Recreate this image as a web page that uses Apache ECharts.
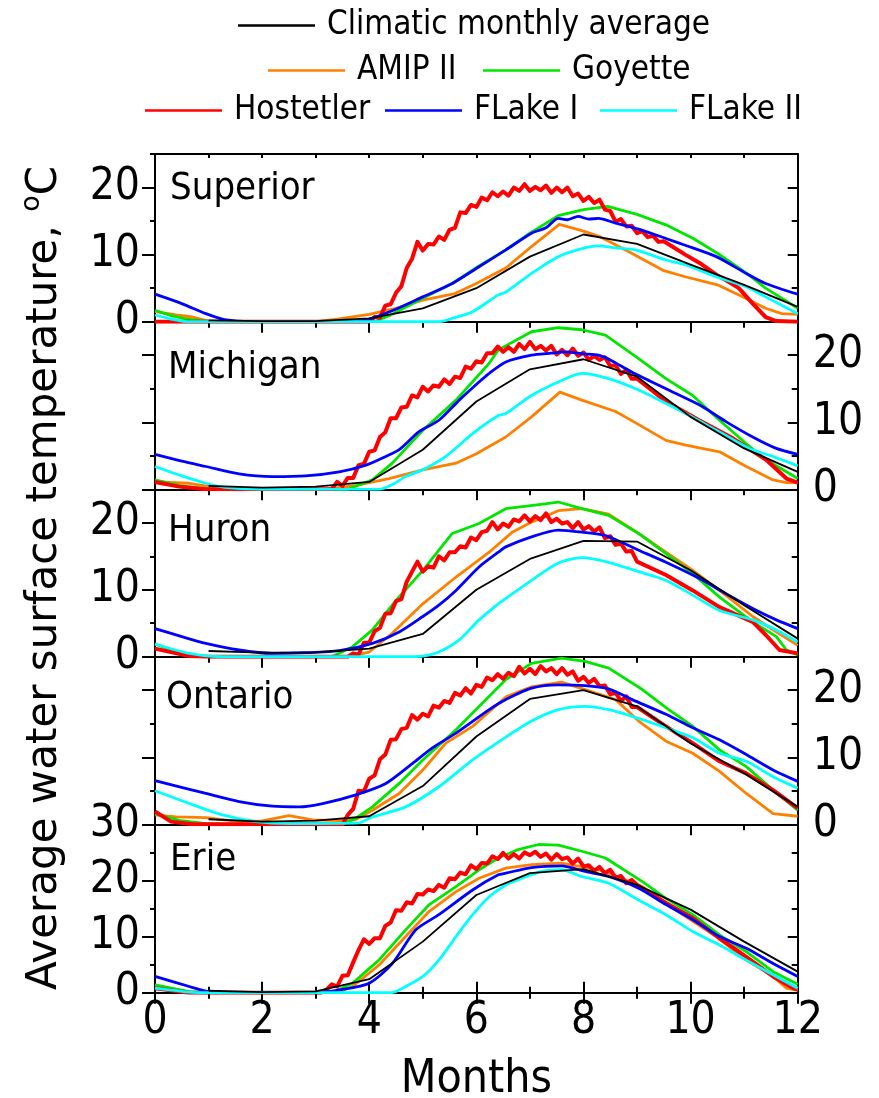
<!DOCTYPE html>
<html>
<head>
<meta charset="utf-8">
<script src="https://cdn.jsdelivr.net/npm/echarts@6/dist/echarts.min.js"></script>
<style>
  html, body { margin: 0; padding: 0; background: #ffffff; }
  #chart { width: 879px; height: 1098px; }
</style>
</head>
<body>
<div id="chart"></div>
<script>
// Panels (one per lake) and the model runs drawn in each
const lakes = ['Superior', 'Michigan', 'Huron', 'Ontario', 'Erie'];
const modelNames = ['Climatic monthly average', 'AMIP II', 'Goyette', 'Hostetler', 'FLake I', 'FLake II'];
const yMaxByLake = [25, 25, 25, 25, 30];
const xMajorTicks = [0, 2, 4, 6, 8, 10, 12];
const xMinorTicks = [1, 3, 5, 7, 9, 11];
const monthTicks = [0, 1, 2, 3, 4, 5, 6, 7, 8, 9, 10, 11, 12];
const yMajorTicks25 = [0, 10, 20];
const yMinorTicks25 = [5, 15, 25];
const yMajorTicks30 = [0, 10, 20, 30];
const yMinorTicks30 = [5, 15, 25];

// ---- Lake Superior: [month, °C]
const supClim = [[1,0.2],[2,0.1],[3,0.1],[4,0.5],[5,2.0],[6,5.0],[7,9.7],[8,13.0],[9,11.6],[10,8.5],[11,5.5],[12,2.2]];
const supAmip = [[0,1.5],[0.4,1.0],[0.7,0.7],[1.0,0.1],[1.5,0],[3.0,0],[3.4,0.4],[4.0,1.1],[4.5,2.0],[5.0,3.2],[5.6,4.2],[6.0,5.7],[6.55,8.0],[7.0,11.0],[7.55,14.5],[8.0,13.5],[8.3,12.7],[8.9,10.2],[9.5,7.6],[9.9,6.7],[10.5,5.5],[11.0,3.6],[11.4,2.0],[11.7,1.2],[12,1.1]];
const supGoy = [[0,1.7],[0.3,0.9],[0.6,0.4],[1.0,0.05],[1.5,0],[4.1,0],[4.4,1.0],[5.0,3.5],[5.55,5.7],[6.05,8.3],[6.55,10.7],[7.0,13.2],[7.53,15.8],[8.0,16.7],[8.45,17.2],[9.0,16.0],[9.55,14.4],[10.05,12.4],[10.5,10.2],[11.05,7.2],[11.4,5.0],[12,2.0]];
const supHost = [[0,0],[4.0,0],[4.1,0.7],[4.2,0.6],[4.3,2.4],[4.4,2.6],[4.5,4.3],[4.6,5.3],[4.7,8.0],[4.8,9.4],[4.9,11.9],[5.0,10.6],[5.1,11.6],[5.2,11.5],[5.3,12.7],[5.4,12.2],[5.5,13.7],[5.6,14.0],[5.7,16.3],[5.8,16.2],[5.9,17.4],[6.0,17.1],[6.1,18.5],[6.2,18.1],[6.3,19.3],[6.4,18.7],[6.5,19.4],[6.6,18.8],[6.7,20.0],[6.8,19.5],[6.9,20.5],[7.0,19.5],[7.1,20.1],[7.2,19.6],[7.3,20.3],[7.4,19.2],[7.5,20.0],[7.6,19.3],[7.7,20.0],[7.8,18.7],[7.9,19.1],[8.0,18.0],[8.1,18.6],[8.2,17.7],[8.3,18.2],[8.4,16.7],[8.5,16.5],[8.6,14.9],[8.7,15.3],[8.8,14.2],[8.9,14.3],[9.0,13.2],[9.1,13.5],[9.2,12.6],[9.3,12.8],[9.4,11.9],[9.5,12.0],[9.9,10.0],[10.2,8.6],[10.48,7.0],[10.7,6.0],[10.9,5.0],[11.16,2.7],[11.4,0.7],[11.6,0.1],[12,0]];
const supFl1 = [[0,4.1],[0.5,2.7],[0.95,1.2],[1.3,0.3],[1.8,0],[3.5,0],[4.0,0.4],[4.45,1.7],[5.0,3.7],[5.55,5.7],[6.05,8.2],[6.55,10.7],[7.03,13.2],[7.3,14.0],[7.53,15.4],[7.7,15.2],[7.9,15.7],[8.1,15.3],[8.28,15.4],[8.6,14.7],[9.03,13.8],[9.54,12.4],[9.9,11.4],[10.48,9.7],[11.04,7.2],[11.4,5.7],[12,4.1]];
const supFl2 = [[0,1.0],[0.3,0.4],[0.6,0],[5.3,0],[5.55,0.5],[5.93,1.5],[6.41,4.0],[6.55,4.4],[7.03,7.2],[7.53,9.7],[7.97,10.9],[8.28,11.3],[8.6,11.0],[8.97,10.7],[9.54,9.2],[9.9,8.5],[10.48,6.7],[11.04,5.2],[11.4,3.7],[12,1.2]];

// ---- Lake Michigan
const micClim = [[1,0.5],[2,0.25],[3,0.4],[4,1.1],[5,5.9],[6,13.1],[7,17.9],[8,19.4],[9,16.8],[10,10.8],[11,6.1],[12,2.6]];
const micAmip = [[0,1.1],[0.64,0.9],[1.26,0.1],[2,0],[3.2,0],[3.75,0.6],[4.37,1.6],[5.0,2.9],[5.62,3.9],[6.0,5.3],[6.55,7.8],[7.03,10.8],[7.56,14.5],[7.97,13.3],[8.6,11.6],[9.0,9.8],[9.54,7.3],[9.91,6.6],[10.54,5.6],[11.04,3.4],[11.54,1.4],[11.79,1.0],[12,1.0]];
const micGoy = [[0,1.4],[0.45,0.6],[0.95,0.05],[1.5,0],[3.6,0],[4.06,1.4],[4.43,3.9],[5.0,8.8],[5.62,13.3],[6.24,18.8],[6.41,20.8],[7.03,23.5],[7.53,24.1],[7.97,23.8],[8.41,23.0],[9.03,19.5],[9.54,16.5],[10.04,14.0],[10.54,10.3],[11.04,6.8],[11.41,4.4],[12,1.6]];
const micHost = [[0,1.1],[0.45,0.4],[0.95,0],[3.3,0],[3.4,1.1],[3.5,0.5],[3.6,1.7],[3.7,1.7],[3.8,3.6],[3.9,3.8],[4.0,5.6],[4.1,5.8],[4.2,7.8],[4.3,8.5],[4.4,10.6],[4.5,10.6],[4.6,12.2],[4.7,12.3],[4.8,14.0],[4.9,13.7],[5.0,15.3],[5.1,14.6],[5.2,15.5],[5.3,15.3],[5.4,16.4],[5.5,15.7],[5.6,16.8],[5.7,16.6],[5.8,18.3],[5.9,18.0],[6.0,19.1],[6.1,18.9],[6.2,20.3],[6.3,20.3],[6.4,21.3],[6.5,20.5],[6.6,21.2],[6.7,20.5],[6.8,21.7],[6.9,20.9],[7.0,22.0],[7.1,20.9],[7.2,21.4],[7.3,20.7],[7.4,21.4],[7.5,20.1],[7.6,20.8],[7.7,20.0],[7.8,21.0],[7.9,19.9],[8.0,20.4],[8.1,19.3],[8.2,19.9],[8.3,19.3],[8.4,19.7],[8.5,18.4],[8.6,18.5],[8.7,17.2],[8.8,17.8],[8.9,16.5],[9.0,16.5],[9.54,13.1],[10.16,10.3],[10.79,7.6],[11.41,4.4],[11.79,1.6],[12,1.0]];
const micFl1 = [[0,5.2],[0.5,4.2],[0.95,3.4],[1.57,2.3],[2.19,1.9],[2.81,2.0],[3.44,2.6],[3.94,3.6],[4.31,4.9],[4.56,5.9],[4.93,8.6],[5.3,10.3],[5.68,13.3],[6.05,16.0],[6.24,17.3],[6.55,19.0],[7.03,20.0],[7.4,20.3],[7.66,20.5],[8.0,20.2],[8.28,20.0],[8.5,19.3],[8.9,17.5],[9.54,15.0],[10.16,12.6],[10.66,10.1],[11.16,7.8],[11.6,6.1],[12,5.2]];
const micFl2 = [[0,3.4],[0.5,2.0],[0.95,0.9],[1.3,0.3],[2,0],[4.2,0],[4.43,0.7],[4.68,1.9],[5.0,2.9],[5.43,4.9],[5.93,8.3],[6.41,11.0],[6.55,11.3],[7.03,14.0],[7.53,16.0],[7.97,17.3],[8.47,16.5],[9.03,14.8],[9.54,12.8],[9.91,11.3],[10.48,8.8],[11.1,6.1],[11.54,4.9],[12,3.5]];

// ---- Lake Huron
const hurClim = [[1,0.85],[2,0.6],[3,0.65],[4,1.2],[5,3.4],[6,10.0],[7,14.6],[8,17.3],[9,17.2],[10,12.9],[11,7.7],[12,2.7]];
const hurAmip = [[0,1.2],[0.4,0.5],[0.8,0.1],[1.2,0],[3.6,0],[4.0,0.7],[4.43,3.5],[5.0,7.9],[5.62,11.9],[6.24,15.6],[6.41,16.8],[6.67,18.6],[7.03,20.1],[7.53,21.8],[7.97,22.1],[8.47,21.3],[9.03,18.4],[9.54,15.6],[10.04,12.9],[10.54,9.9],[11.16,6.0],[11.6,3.7],[12,1.7]];
const hurGoy = [[0,1.9],[0.3,1.0],[0.65,0.25],[1.0,0],[3.3,0],[3.69,1.5],[4.06,4.0],[4.5,8.4],[5.0,12.9],[5.55,18.4],[6.05,19.9],[6.55,22.1],[7.17,22.7],[7.53,23.1],[7.97,22.1],[8.47,21.1],[9.03,18.4],[9.54,15.4],[10.04,12.4],[10.54,8.9],[11.16,5.2],[11.6,3.0],[11.79,1.0],[12,0.25]];
const hurHost = [[0,1.2],[0.64,0.1],[1.0,0],[3.6,0],[3.7,0.5],[3.8,0.3],[3.9,2.1],[4.0,2.1],[4.1,3.8],[4.2,4.3],[4.3,6.4],[4.4,6.5],[4.5,8.3],[4.6,8.6],[4.7,11.2],[4.8,12.7],[4.9,14.2],[5.0,12.7],[5.1,13.5],[5.2,13.3],[5.3,15.0],[5.4,14.4],[5.5,15.6],[5.6,15.6],[5.7,16.5],[5.8,16.3],[5.9,17.8],[6.0,17.4],[6.1,18.6],[6.2,18.8],[6.3,20.1],[6.4,19.0],[6.5,19.9],[6.6,19.4],[6.7,20.5],[6.8,20.2],[6.9,21.1],[7.0,20.2],[7.1,21.0],[7.2,20.4],[7.3,21.4],[7.4,20.1],[7.5,20.6],[7.6,19.9],[7.7,20.1],[7.8,19.2],[7.9,20.1],[8.0,19.0],[8.1,19.5],[8.2,18.7],[8.3,19.3],[8.4,17.7],[8.5,18.0],[8.6,16.7],[8.7,16.9],[8.8,15.7],[8.9,15.8],[9.0,14.2],[9.54,12.2],[10.04,9.9],[10.54,7.4],[11.16,5.2],[11.41,3.2],[11.66,1.0],[12,0.5]];
const hurFl1 = [[0,4.2],[0.5,3.0],[0.95,2.0],[1.57,1.0],[2.19,0.5],[2.81,0.6],[3.44,0.9],[4.06,2.0],[4.56,3.7],[5.0,6.0],[5.3,7.7],[5.62,9.9],[6.05,13.4],[6.41,15.6],[6.55,16.4],[7.03,17.9],[7.53,18.9],[7.97,18.6],[8.41,18.1],[9.03,15.9],[9.54,14.1],[10.16,11.7],[10.66,9.4],[11.16,7.2],[11.6,5.5],[12,4.2]];
const hurFl2 = [[0,1.9],[0.64,0.5],[1.26,0],[4.6,0],[5.0,0.1],[5.3,0.7],[5.68,2.5],[6.05,5.5],[6.41,7.9],[6.55,8.7],[7.03,11.4],[7.53,14.0],[7.97,14.8],[8.47,14.1],[9.03,12.7],[9.54,11.4],[10.04,9.2],[10.54,6.9],[11.16,5.5],[11.6,4.0],[12,2.2]];

// ---- Lake Ontario
const ontClim = [[1,0.75],[2,0.4],[3,0.55],[4,1.2],[5,5.7],[6,13.1],[7,18.7],[8,20.0],[9,17.6],[10,12.1],[11,7.6],[12,2.6]];
const ontAmip = [[0,1.4],[0.4,1.1],[0.95,1.0],[1.57,0.4],[2.0,0.5],[2.5,1.3],[2.94,0.65],[3.44,0.55],[3.75,0.7],[4.06,2.1],[4.56,4.6],[5.0,8.1],[5.43,12.1],[5.93,14.6],[6.55,19.0],[7.03,20.5],[7.59,21.2],[8.03,20.1],[8.6,18.6],[9.03,15.4],[9.54,12.4],[10.04,10.6],[10.54,7.9],[11.04,4.6],[11.54,1.6],[12,1.2]];
const ontGoy = [[0,1.6],[0.45,0.6],[0.95,0.1],[1.5,0],[3.5,0],[3.75,0.9],[4.06,2.6],[4.56,6.1],[5.0,9.6],[5.62,14.1],[6.24,19.1],[6.55,21.6],[7.03,24.0],[7.59,24.8],[8.03,24.3],[8.47,23.3],[9.1,20.1],[9.54,17.4],[10.04,14.6],[10.54,11.1],[11.04,8.6],[11.54,5.1],[12,2.1]];
const ontHost = [[0,1.9],[0.3,0.4],[0.7,0],[3.5,0],[3.6,1.4],[3.7,2.3],[3.8,5.0],[3.9,4.9],[4.0,6.8],[4.1,7.3],[4.2,9.7],[4.3,10.4],[4.4,12.6],[4.5,12.7],[4.6,14.2],[4.7,14.4],[4.8,16.3],[4.9,15.6],[5.0,16.5],[5.1,16.1],[5.2,17.7],[5.3,17.4],[5.4,18.4],[5.5,18.1],[5.6,19.6],[5.7,19.2],[5.8,20.3],[5.9,19.5],[6.0,20.8],[6.1,20.5],[6.2,21.9],[6.3,21.5],[6.4,22.4],[6.5,21.7],[6.6,22.6],[6.7,22.1],[6.8,23.5],[6.9,22.5],[7.0,23.2],[7.1,22.4],[7.2,23.6],[7.3,22.8],[7.4,23.3],[7.5,22.4],[7.6,23.3],[7.7,22.3],[7.8,22.8],[7.9,21.4],[8.0,22.0],[8.1,21.1],[8.2,21.7],[8.3,20.6],[8.4,20.7],[8.5,19.4],[8.6,19.6],[8.7,18.4],[8.8,19.1],[8.9,17.5],[9.0,17.5],[9.54,14.6],[10.04,12.1],[10.54,9.4],[11.04,7.6],[11.54,5.1],[12,2.4]];
const ontFl1 = [[0,6.5],[0.95,4.6],[1.57,3.4],[2.19,2.7],[2.69,2.6],[3.13,3.1],[3.75,4.4],[4.31,6.1],[4.81,9.1],[5.18,11.4],[5.62,13.6],[6.24,17.1],[6.55,18.6],[7.03,20.3],[7.53,20.8],[8.03,20.7],[8.47,20.2],[8.91,18.6],[9.54,16.4],[10.04,14.4],[10.54,12.6],[11.04,10.4],[11.54,8.1],[12,6.4]];
const ontFl2 = [[0,5.0],[0.64,3.1],[1.26,1.4],[1.88,0.4],[2.5,0.1],[3.8,0.2],[4.06,1.1],[4.68,2.6],[5.3,5.6],[5.93,9.6],[6.55,13.0],[7.03,15.4],[7.53,17.1],[8.03,17.6],[8.47,17.1],[8.91,16.1],[9.54,14.4],[10.04,12.9],[10.54,10.6],[11.04,9.4],[11.54,7.1],[12,5.4]];

// ---- Lake Erie
const erieClim = [[1,0.35],[2,0.1],[3,0.25],[4,2.4],[5,9.1],[6,17.4],[7,21.3],[8,22.0],[9,19.2],[10,14.8],[11,9.1],[12,3.75]];
const erieAmip = [[0,0.8],[0.64,0.1],[1.0,0],[3.4,0],[3.69,1.1],[4.18,4.9],[4.68,10.0],[5.12,14.5],[5.62,18.0],[6.05,20.4],[6.55,22.2],[7.03,22.8],[7.59,23.1],[8.28,21.9],[9.1,18.9],[9.85,13.9],[10.48,10.0],[11.04,5.8],[11.54,2.9],[11.79,0.8],[12,0.4]];
const erieGoy = [[0,1.4],[0.64,0.2],[1.0,0],[3.3,0],[3.69,1.7],[4.18,5.8],[4.68,11.2],[5.12,15.7],[5.62,18.9],[6.05,21.9],[6.41,24.0],[6.78,25.5],[7.16,26.4],[7.53,26.3],[7.97,25.2],[8.41,24.0],[9.1,19.8],[9.54,16.8],[10.04,13.9],[10.54,10.3],[11.04,7.3],[11.54,3.75],[12,1.5]];
const erieHost = [[0,0.8],[0.64,0],[3.1,0],[3.2,0.5],[3.3,1.5],[3.4,1.1],[3.5,3.0],[3.6,3.1],[3.7,5.4],[3.8,7.6],[3.9,9.5],[4.0,8.7],[4.1,9.7],[4.2,9.7],[4.3,11.9],[4.4,12.5],[4.5,14.7],[4.6,14.6],[4.7,16.1],[4.8,15.9],[4.9,17.6],[5.0,17.5],[5.1,18.4],[5.2,18.1],[5.3,19.2],[5.4,18.7],[5.5,20.4],[5.6,20.2],[5.7,21.4],[5.8,21.1],[5.9,22.7],[6.0,22.0],[6.1,23.1],[6.2,23.0],[6.3,24.3],[6.4,23.8],[6.5,24.9],[6.6,23.9],[6.7,24.7],[6.8,23.9],[6.9,25.0],[7.0,24.5],[7.1,25.1],[7.2,24.2],[7.3,24.8],[7.4,23.7],[7.5,24.7],[7.6,23.8],[7.7,24.1],[7.8,23.0],[7.9,23.9],[8.0,22.5],[8.1,22.7],[8.2,21.7],[8.3,22.4],[8.4,21.3],[8.5,21.9],[8.6,20.5],[8.7,20.8],[8.8,19.5],[8.9,20.1],[9.0,19.2],[9.54,16.0],[10.04,13.3],[10.54,9.7],[11.04,6.4],[11.54,2.9],[11.92,0.8],[12,0.6]];
const erieFl1 = [[0,2.9],[0.64,1.1],[1.0,0.2],[1.5,0],[3.0,0],[3.44,0.5],[4.0,1.7],[4.43,5.2],[4.87,11.2],[5.3,13.9],[5.93,18.3],[6.41,21.0],[6.55,21.3],[7.03,22.3],[7.59,22.6],[8.03,21.6],[8.47,20.7],[9.03,18.6],[9.54,15.7],[10.04,13.0],[10.54,10.0],[11.04,7.9],[11.54,5.2],[12,2.9]];
const erieFl2 = [[0,0.8],[0.64,0.1],[1.0,0],[4.4,0],[4.56,0.5],[5.0,2.9],[5.3,5.8],[5.62,10.0],[5.93,13.9],[6.24,17.1],[6.55,19.2],[6.78,20.1],[7.22,21.6],[7.59,21.9],[7.97,20.7],[8.47,19.5],[9.03,16.5],[9.54,13.9],[10.04,10.9],[10.54,8.5],[11.04,5.8],[11.54,3.2],[12,0.8]];

// Series per lake, in the order of modelNames
const lakeSeries = [
  [supClim, supAmip, supGoy, supHost, supFl1, supFl2],
  [micClim, micAmip, micGoy, micHost, micFl1, micFl2],
  [hurClim, hurAmip, hurGoy, hurHost, hurFl1, hurFl2],
  [ontClim, ontAmip, ontGoy, ontHost, ontFl1, ontFl2],
  [erieClim, erieAmip, erieGoy, erieHost, erieFl1, erieFl2]
];

// ---------- styling ----------
const COND = 'DejaVu Sans Condensed';
const modelColors = ['#000000', '#ff8000', '#00e600', '#ff0000', '#0000ff', '#00ffff'];
const modelWidths = [1.8, 2.8, 2.8, 4, 2.8, 2.8];
const modelSmooth = [false, false, false, false, 0.25, 0.25];
const modelZ = [16, 10, 11, 12, 13, 14];
const gridTop = [154, 321.7, 489.3, 656.7, 824.3];
const gridHeight = [167.7, 167.6, 167.4, 167.6, 168.4];
const labelRight = [false, true, false, true, false]; // which side carries the tick labels

const axisLineStyle = { color: '#000', width: 2 };
const tickStyle = { color: '#000', width: 2 };
const tickFont = { color: '#000', fontFamily: COND, fontSize: 44 };

const grids = [], xAxes = [], yAxes = [], series = [];

lakes.forEach((lake, g) => {
  const last = g === lakes.length - 1;
  const ymax = yMaxByLake[g];
  const yMaj = ymax === 30 ? yMajorTicks30 : yMajorTicks25;
  const yMin = ymax === 30 ? yMinorTicks30 : yMinorTicks25;
  // fixed panel boxes: labels and names may sit outside without shrinking the panel
  grids.push({ left: 155, right: 81.3, top: gridTop[g], height: gridHeight[g], containLabel: false, outerBoundsMode: 'none' });

  const xMain = xAxes.length;
  xAxes.push({
    type: 'value', gridIndex: g, min: 0, max: 12, position: 'bottom',
    axisLine: { show: true, onZero: false, lineStyle: axisLineStyle },
    axisTick: { show: true, customValues: xMajorTicks, length: 11, lineStyle: tickStyle },
    axisLabel: last ? Object.assign({ show: true, customValues: xMajorTicks, margin: 7 }, tickFont) : { show: false },
    splitLine: { show: false },
    name: last ? 'Months' : '', nameLocation: 'middle', nameGap: 64,
    nameTextStyle: { color: '#000', fontFamily: COND, fontSize: 46 }
  });
  xAxes.push({
    type: 'value', gridIndex: g, min: 0, max: 12, position: 'bottom',
    axisLine: { show: false, onZero: false },
    axisTick: { show: true, customValues: xMinorTicks, length: 6, lineStyle: tickStyle },
    axisLabel: { show: false }, splitLine: { show: false }
  });
  if (g === 0) {
    xAxes.push({
      type: 'value', gridIndex: g, min: 0, max: 12, position: 'top',
      axisLine: { show: true, onZero: false, lineStyle: axisLineStyle },
      axisTick: { show: true, inside: true, customValues: monthTicks, length: 4, lineStyle: tickStyle },
      axisLabel: { show: false }, splitLine: { show: false }
    });
  }
  if (last) {
    // the bottom axis also carries ticks reaching into the plot
    xAxes.push({
      type: 'value', gridIndex: g, min: 0, max: 12, position: 'bottom',
      axisLine: { show: false, onZero: false },
      axisTick: { show: true, inside: true, customValues: xMajorTicks, length: 11, lineStyle: tickStyle },
      axisLabel: { show: false }, splitLine: { show: false }
    });
    xAxes.push({
      type: 'value', gridIndex: g, min: 0, max: 12, position: 'bottom',
      axisLine: { show: false, onZero: false },
      axisTick: { show: true, inside: true, customValues: xMinorTicks, length: 6, lineStyle: tickStyle },
      axisLabel: { show: false }, splitLine: { show: false }
    });
  }

  const yMain = yAxes.length;
  const labelFmt = v => String(v);
  // left side: ticks outside
  yAxes.push({
    type: 'value', gridIndex: g, min: 0, max: ymax, position: 'left',
    axisLine: { show: true, onZero: false, lineStyle: axisLineStyle },
    axisTick: { show: true, customValues: yMaj, length: 13, lineStyle: tickStyle },
    axisLabel: labelRight[g] ? { show: false } : Object.assign({ show: true, customValues: yMaj, margin: 15, formatter: labelFmt }, tickFont),
    splitLine: { show: false }
  });
  yAxes.push({
    type: 'value', gridIndex: g, min: 0, max: ymax, position: 'left',
    axisLine: { show: false, onZero: false },
    axisTick: { show: true, customValues: yMin, length: 5, lineStyle: tickStyle },
    axisLabel: { show: false }, splitLine: { show: false }
  });
  // right side: ticks inside
  yAxes.push({
    type: 'value', gridIndex: g, min: 0, max: ymax, position: 'right',
    axisLine: { show: true, onZero: false, lineStyle: axisLineStyle },
    axisTick: { show: true, inside: true, customValues: yMaj, length: 10, lineStyle: tickStyle },
    axisLabel: labelRight[g] ? Object.assign({ show: true, customValues: yMaj, margin: 15, formatter: labelFmt }, tickFont) : { show: false },
    splitLine: { show: false }
  });
  yAxes.push({
    type: 'value', gridIndex: g, min: 0, max: ymax, position: 'right',
    axisLine: { show: false, onZero: false },
    axisTick: { show: true, inside: true, customValues: yMin, length: 6, lineStyle: tickStyle },
    axisLabel: { show: false }, splitLine: { show: false }
  });

  lakeSeries[g].forEach((data, m) => {
    series.push({
      name: modelNames[m], type: 'line', xAxisIndex: xMain, yAxisIndex: yMain,
      data: data, symbol: 'none', showSymbol: false, z: modelZ[m],
      smooth: modelSmooth[m], clip: true,
      lineStyle: { color: modelColors[m], width: modelWidths[m], join: 'round' },
      itemStyle: { color: modelColors[m] }
    });
  });
});

// one legend entry per component so each can be placed on its row
const legendSlots = [
  { name: modelNames[0], left: 238, top: 9 },
  { name: modelNames[1], left: 268, top: 54 },
  { name: modelNames[2], left: 483, top: 54 },
  { name: modelNames[3], left: 145, top: 94 },
  { name: modelNames[4], left: 385, top: 94 },
  { name: modelNames[5], left: 600, top: 94 }
];
const legends = legendSlots.map(s => ({
  data: [s.name], left: s.left, top: s.top, orient: 'horizontal', padding: 0,
  icon: 'rect', itemWidth: 77, itemHeight: 2.5, selectedMode: false,
  textStyle: { color: '#000', fontFamily: COND, fontSize: 33, padding: [0, 0, 0, 7] }
}));

// lake names inside each panel
const lakeLabelPos = [[170, 192], [168, 371], [168, 534], [166, 701], [170, 863]];
const graphics = lakes.map((lake, g) => ({
  type: 'text', left: lakeLabelPos[g][0], top: lakeLabelPos[g][1] - 22, z: 50,
  style: { text: lake, fill: '#000', font: '38px "' + COND + '"' }
}));
graphics.push({
  type: 'text', x: 42, y: 578, rotation: Math.PI / 2, z: 50,
  style: {
    text: '{m|Average water surface temperature, }{s|o}{m|C}',
    align: 'center', verticalAlign: 'middle', fill: '#000',
    rich: {
      m: { fontFamily: 'DejaVu Sans', fontSize: 42, lineHeight: 48, fill: '#000', verticalAlign: 'bottom' },
      s: { fontFamily: 'DejaVu Sans', fontSize: 27, lineHeight: 48, fill: '#000', verticalAlign: 'top', padding: [0, 0, 16, 0] }
    }
  }
});

const chart = echarts.init(document.getElementById('chart'), null, { renderer: 'canvas' });
chart.setOption({
  backgroundColor: '#ffffff',
  animation: false,
  grid: grids,
  xAxis: xAxes,
  yAxis: yAxes,
  legend: legends,
  graphic: graphics,
  series: series
});
</script>
</body>
</html>
